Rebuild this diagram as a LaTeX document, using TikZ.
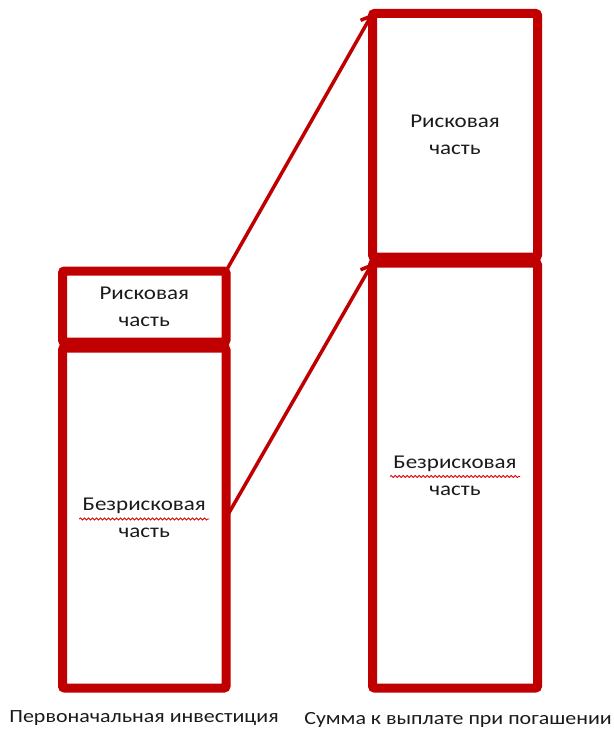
\documentclass[tikz,border=0pt]{standalone}
\usepackage{fontspec}
\setmainfont{Carlito}[FakeStretch=1.18]
\usetikzlibrary{arrows.meta,decorations.pathmorphing}
\definecolor{boxred}{HTML}{C00000}
\definecolor{txtgray}{HTML}{1A1A1A}

\begin{document}
\begin{tikzpicture}[x=1pt,y=-1pt,
    part/.style={draw=boxred, line width=9pt, rounded corners=2pt, inner sep=0pt, outer sep=0pt,
      text=txtgray, align=center, font=\fontsize{19.5}{27}\selectfont},
    link/.style={draw=boxred, line width=3.5pt, -{Straight Barb[length=9pt,width=14pt]}},
    squiggle/.style={draw=red!85!black, line width=0.8pt, decorate,
      decoration={snake, amplitude=1pt, segment length=4pt}},
    caption/.style={text=txtgray, font=\fontsize{18.6}{22}\selectfont}]
  \useasboundingbox (0,0) rectangle (613,733);
  % initial investment
  \node[part, minimum width=163.5pt, minimum height=71pt] (riskL) at (144.25,306.5){Рисковая\\часть};
  \node[part, minimum width=163.5pt, minimum height=340pt] (safeL) at (144.25,518){Безрисковая\\часть};
  % redemption payout
  \node[part, minimum width=165pt, minimum height=243.5pt] (riskR) at (455,135.25){Рисковая\\часть};
  \node[part, minimum width=165pt, minimum height=425pt] (safeR) at (455,475.5){Безрисковая\\часть};
  \draw[squiggle] ([xshift=-65pt,yshift=-1pt]safeL.center) -- ([xshift=65pt,yshift=-1pt]safeL.center);
  \draw[squiggle] ([xshift=-65pt,yshift=-1pt]safeR.center) -- ([xshift=65pt,yshift=-1pt]safeR.center);
  \draw[link](riskL.north east) -- (riskR.north west);
  \draw[link](safeL.east) -- (safeR.north west);
  \node[caption] (capL) at (144,718){Первоначальная инвестиция};
  \node[caption] (capR) at (458,720){Сумма к выплате при погашении};
\end{tikzpicture}
\end{document}
